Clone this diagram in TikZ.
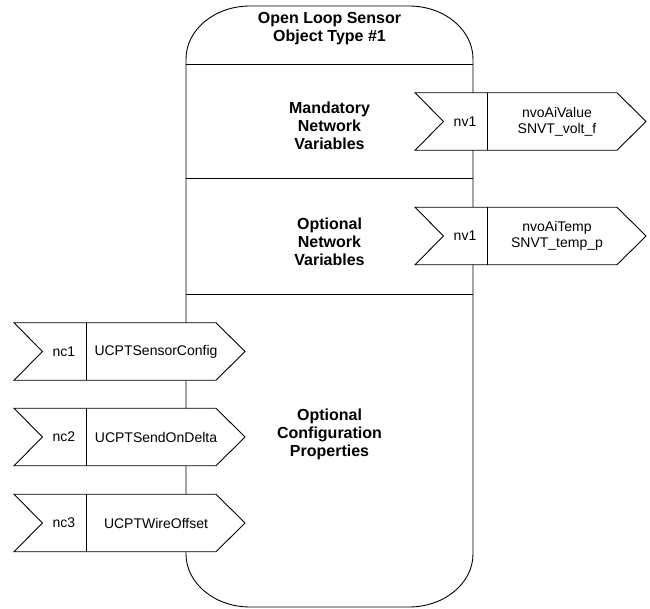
\documentclass[tikz,border=0pt]{standalone}
\usepackage{fontspec}
\setmainfont{Liberation Sans}
\newcommand\flagbox[5]{%
  \draw[flagshape] (#2,#3-28.75) -- ++(28.5,28.75) -- ++(-28.5,28.75) -- ++(202,0) -- ++(29,-28.75) -- ++(-29,-28.75) -- cycle;
  \draw[outline] (#2+72,#3-28.75) -- ++(0,57.5);
  \node[boxtext] (#1a) at (#2+50,#3) {#4};
  \node[boxtext] (#1b) at (#2+142,#3) {#5};
}
\begin{document}
\begin{tikzpicture}[x=1pt,y=-1pt,
  outline/.style={draw=black, line width=0.9pt},
  flagshape/.style={outline, fill=white, line join=miter},
  sectlabel/.style={font=\fontsize{16}{18}\selectfont\bfseries, align=center, inner sep=0pt},
  boxtext/.style={font=\fontsize{14}{16}\selectfont, align=center, inner sep=0pt},
  corner/.style={x radius=64pt, y radius=53pt}]
\useasboundingbox (0,0) rectangle (650,609);
% body
\draw[outline] (250,6) -- (409,6) arc[start angle=90, end angle=0, corner]
  -- (473,554) arc[start angle=0, end angle=-90, corner]
  -- (250,607) arc[start angle=270, end angle=180, corner]
  -- (186,59) arc[start angle=180, end angle=90, corner] -- cycle;
\draw[outline] (186,64) -- (473,64);
\draw[outline] (186,178.5) -- (473,178.5);
\draw[outline] (186,294.5) -- (473,294.5);
\node[sectlabel] (title) at (329.5,29) {Open Loop Sensor\\Object Type \#1};
\node[sectlabel] (mand) at (329.5,126) {Mandatory\\Network\\Variables};
\node[sectlabel] (opt) at (329.5,242) {Optional\\Network\\Variables};
\node[sectlabel] (conf) at (329.5,434.5) {Optional\\Configuration\\Properties};
% flags
\flagbox{v1}{415}{121.5}{nv1}{nvoAiValue\\SNVT\_volt\_f}
\flagbox{v2}{415}{236}{nv1}{nvoAiTemp\\SNVT\_temp\_p}
\flagbox{c1}{14}{351.5}{nc1}{UCPTSensorConfig}
\flagbox{c2}{14}{437}{nc2}{UCPTSendOnDelta}
\flagbox{c3}{14}{523}{nc3}{UCPTWireOffset}
\end{tikzpicture}
\end{document}
